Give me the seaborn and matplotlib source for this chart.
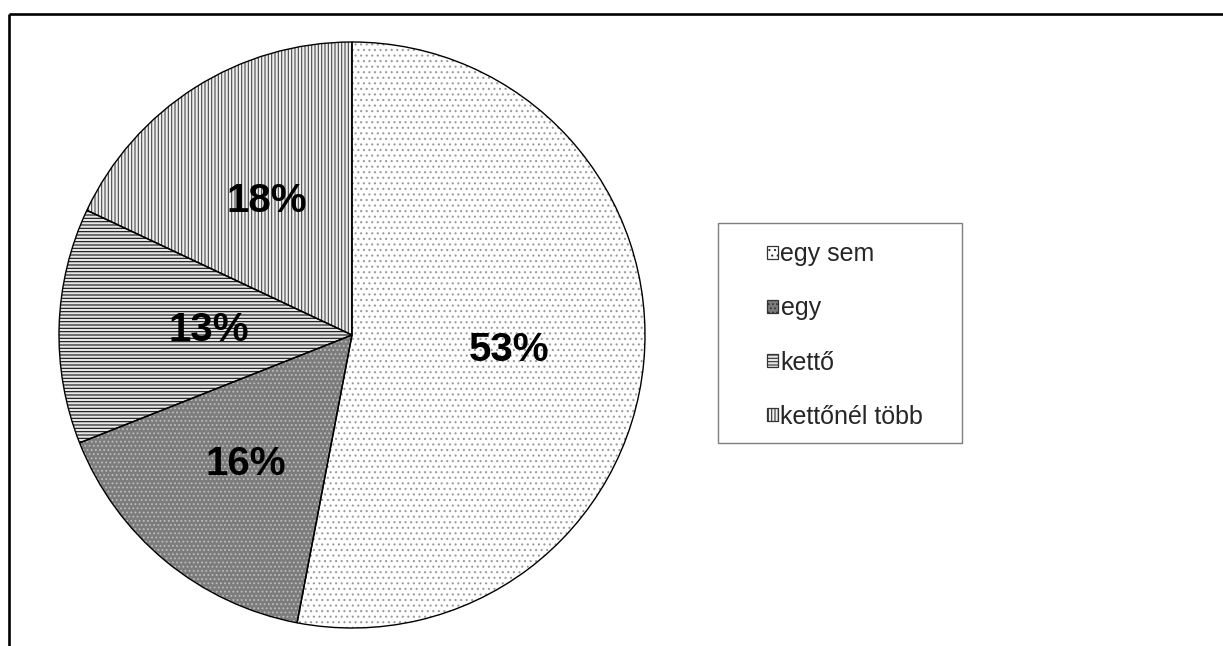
import matplotlib
matplotlib.use("Agg")
import numpy as np
import matplotlib.pyplot as plt
import seaborn as sns
from matplotlib.lines import Line2D
from matplotlib.patches import Rectangle

# ---- data ----
categories = ["egy sem", "egy", "kettő", "kettőnél több"]
shares = [53, 16, 13, 18]

# ---- styles ----
face_colors = ["#ffffff", "#7c7c7c", "#e6e6e6", "#eeeeee"]
hatch_colors = ["#9c9c9c", "#bdbdbd", "#111111", "#4a4a4a"]
hatches = ["...", "....", "-----", "|||||"]
label_dist = [0.54, 0.57, 0.49, 0.54]

sns.set_theme(style="white")
plt.rcParams["font.family"] = ["Liberation Sans", "DejaVu Sans"]
plt.rcParams["hatch.linewidth"] = 0.8

W, H = 1223, 646
fig = plt.figure(figsize=(W / 100, H / 100), dpi=100)
fig.patch.set_facecolor("white")

cx, cy, r = 352, 335, 293
pad = 1.02
ax = fig.add_axes([(cx - r * pad) / W, (H - cy - r * pad) / H,
                   2 * r * pad / W, 2 * r * pad / H])

wedges, texts, autotexts = ax.pie(
    shares, colors=face_colors, startangle=90, counterclock=False,
    autopct=lambda p: f"{round(p)}%", pctdistance=0.55,
    wedgeprops=dict(linewidth=0),
    textprops=dict(fontsize=29, fontweight="bold", color="black"))
for w, hc, h in zip(wedges, hatch_colors, hatches):
    w.set_edgecolor(hc)
    w.set_hatch(h)
    w.set_linewidth(0)

outline, _ = ax.pie(
    shares, startangle=90, counterclock=False, colors=["none"] * len(shares),
    wedgeprops=dict(edgecolor="black", linewidth=1.0, fill=False))

for w, t, d in zip(wedges, autotexts, label_dist):
    mid = np.deg2rad((w.theta1 + w.theta2) / 2)
    t.set_position((d * np.cos(mid), d * np.sin(mid)))
    t.set_zorder(5)

ax.set_xlim(-pad, pad)
ax.set_ylim(-pad, pad)
ax.set_aspect("equal")
ax.axis("off")

leg = fig.legend(
    wedges, categories, loc="center left",
    bbox_to_anchor=(767 / W, 1 - 335.5 / H),
    frameon=False, fontsize=18, handlelength=0.44, handleheight=0.44,
    handletextpad=0.1, labelspacing=1.2, borderpad=0, borderaxespad=0)
for hnd in leg.legend_handles:
    hnd.set_linewidth(0.9)
    hnd.set_edgecolor("#333333")

fig.add_artist(Rectangle((718 / W, 1 - 443 / H), (962 - 718) / W, (443 - 223) / H,
                         transform=fig.transFigure, fill=False,
                         edgecolor="#7f7f7f", linewidth=1.0))

fx, fy = 8.7, 13.5
fig.add_artist(Line2D([fx / W, 1], [1 - fy / H, 1 - fy / H], color="black",
                      lw=1.9, transform=fig.transFigure, solid_capstyle="butt"))
fig.add_artist(Line2D([fx / W, fx / W], [0, 1 - fy / H], color="black",
                      lw=1.9, transform=fig.transFigure, solid_capstyle="butt"))

fig.savefig("out.png", dpi=100)
